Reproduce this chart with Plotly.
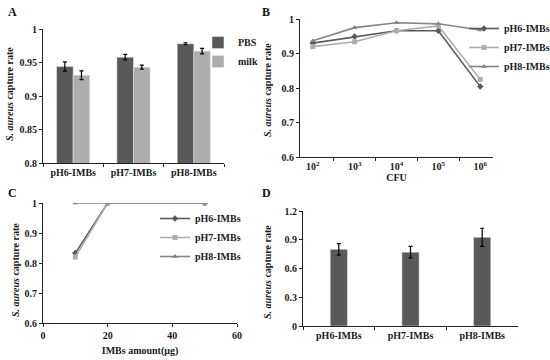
import plotly.graph_objects as go

W, H = 550, 360

# ---------------- data ----------------
groups = ["pH6-IMBs", "pH7-IMBs", "pH8-IMBs"]
a_pbs = [0.944, 0.958, 0.978]
a_pbs_err = [0.007, 0.004, 0.0015]
a_milk = [0.931, 0.943, 0.967]
a_milk_err = [0.0065, 0.003, 0.004]

cfu_labels = ["10<sup>2</sup>", "10<sup>3</sup>", "10<sup>4</sup>", "10<sup>5</sup>", "10<sup>6</sup>"]
b_ph6 = [0.930, 0.949, 0.966, 0.966, 0.804]
b_ph7 = [0.920, 0.934, 0.966, 0.980, 0.825]
b_ph8 = [0.937, 0.975, 0.989, 0.986, 0.968]

c_amount = [10, 20, 50]
c_ph6 = [0.833, 1.0, 1.0]
c_ph7 = [0.820, 1.0, 1.0]
c_ph8 = [1.0, 1.0, 1.0]

d_vals = [0.80, 0.77, 0.925]
d_err = [0.06, 0.06, 0.095]

# ---------------- styling ----------------
FONT = "Liberation Serif"
DARK = "#595959"
LIGHT = "#adadad"
MID = "#858585"
series_names = ["pH6-IMBs", "pH7-IMBs", "pH8-IMBs"]
series_cols = [DARK, LIGHT, MID]
series_sym = ["diamond", "square", "triangle-up"]


def px(x):
    return x / W


def py(y):
    return 1 - y / H


fig = go.Figure()

# Panel A
fig.add_trace(go.Bar(x=groups, y=a_pbs, name="<b>PBS</b>", marker_color=DARK,
                     error_y=dict(type="data", array=a_pbs_err, color="black", thickness=1.2, width=2),
                     xaxis="x", yaxis="y", legend="legend"))
fig.add_trace(go.Bar(x=groups, y=a_milk, name="<b>milk</b>", marker_color=LIGHT,
                     error_y=dict(type="data", array=a_milk_err, color="black", thickness=1.2, width=2),
                     xaxis="x", yaxis="y", legend="legend"))

# Panel B
for vals, nm, col, sym in zip([b_ph6, b_ph7, b_ph8], series_names, series_cols, series_sym):
    fig.add_trace(go.Scatter(x=cfu_labels, y=vals, mode="lines+markers", name="<b>" + nm + "</b>",
                             line=dict(color=col, width=1.6), marker=dict(symbol=sym, size=5, color=col),
                             xaxis="x2", yaxis="y2", legend="legend2"))

# Panel C
for vals, nm, col, sym in zip([c_ph6, c_ph7, c_ph8], series_names, series_cols, series_sym):
    fig.add_trace(go.Scatter(x=c_amount, y=vals, mode="lines+markers", name="<b>" + nm + "</b>",
                             line=dict(color=col, width=1.6), marker=dict(symbol=sym, size=5, color=col),
                             xaxis="x3", yaxis="y3", legend="legend3"))

# Panel D
fig.add_trace(go.Bar(x=groups, y=d_vals, marker_color=DARK, showlegend=False,
                     error_y=dict(type="data", array=d_err, color="black", thickness=1.2, width=2),
                     xaxis="x4", yaxis="y4", width=0.24))

tickfont = dict(family=FONT, size=10, color="#1a1a1a")
axis_common = dict(showline=True, linecolor="#222", linewidth=1.2, showgrid=False, zeroline=False,
                   ticks="outside", ticklen=3, tickcolor="#222", tickfont=tickfont, fixedrange=True,
                   automargin=False, tickangle=0, tickprefix="<b>", ticksuffix="</b>")
legfont = dict(family=FONT, size=10, color="#1a1a1a")

fig.update_layout(
    width=W, height=H, margin=dict(l=0, r=0, t=0, b=0, autoexpand=False),
    paper_bgcolor="white", plot_bgcolor="white",
    font=dict(family=FONT, color="#1a1a1a"),
    barmode="group", bargap=0.45, bargroupgap=0,
    xaxis=dict(domain=[px(43), px(224)], anchor="y", type="category", tickson="boundaries", **axis_common),
    yaxis=dict(domain=[py(163), py(29)], anchor="x", range=[0.8, 1.0], dtick=0.05, **axis_common),
    xaxis2=dict(domain=[px(300), px(493)], anchor="y2", type="category", tickson="boundaries",
                title=dict(text="<b>CFU</b>", font=dict(family=FONT, size=10), standoff=2), **axis_common),
    yaxis2=dict(domain=[py(157), py(19)], anchor="x2", range=[0.6, 1.0], dtick=0.1, **axis_common),
    xaxis3=dict(domain=[px(43), px(237)], anchor="y3", range=[0, 60], dtick=20,
                title=dict(text="<b>IMBs amount(μg)</b>", font=dict(family=FONT, size=10), standoff=6),
                **axis_common),
    yaxis3=dict(domain=[py(323), py(203)], anchor="x3", range=[0.6, 1.0], dtick=0.1, **axis_common),
    xaxis4=dict(domain=[px(303), px(518)], anchor="y4", type="category", tickson="boundaries", **axis_common),
    yaxis4=dict(domain=[py(326), py(211)], anchor="x4", range=[0, 1.2], dtick=0.3, **axis_common),
    legend=dict(x=px(198), y=py(28), xanchor="left", yanchor="top", bgcolor="rgba(0,0,0,0)",
                font=legfont, itemwidth=30),
    legend2=dict(x=px(464), y=py(14), xanchor="left", yanchor="top", bgcolor="rgba(0,0,0,0)",
                 font=legfont, itemwidth=30),
    legend3=dict(x=px(155), y=py(204), xanchor="left", yanchor="top", bgcolor="rgba(0,0,0,0)",
                 font=legfont, itemwidth=30),
)

ann = []
for label, x, y in [("A", 12, 12), ("B", 266, 12), ("C", 12, 193), ("D", 266, 193)]:
    ann.append(dict(text="<b>" + label + "</b>", x=px(x), y=py(y), xref="paper", yref="paper",
                    xanchor="center", yanchor="middle",
                    showarrow=False, font=dict(family=FONT, size=12, color="#111")))
ytitle = "<b><i>S. aureus</i> capture rate</b>"
for x, y in [(10, 94), (267, 90), (15, 270), (267, 272)]:
    ann.append(dict(text=ytitle, x=px(x), y=py(y), xref="paper", yref="paper", textangle=-90,
                    xanchor="center", yanchor="middle",
                    showarrow=False, font=dict(family=FONT, size=10, color="#1a1a1a")))
fig.update_layout(annotations=ann)

fig.write_html("out.html", config={"displayModeBar": False},
               post_script="document.body.style.margin='0';document.body.style.overflow='hidden';")
